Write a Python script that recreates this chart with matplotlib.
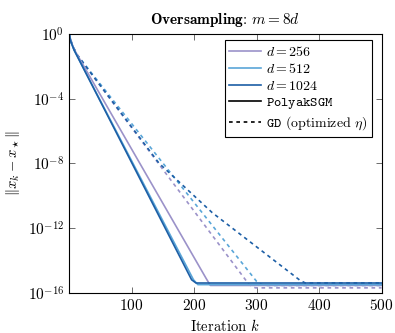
import matplotlib
matplotlib.use("Agg")
import matplotlib.pyplot as plt
import numpy as np

plt.rcParams["font.family"] = "serif"
plt.rcParams["font.serif"] = ["cmr10", "DejaVu Serif"]
plt.rcParams["mathtext.fontset"] = "cm"
plt.rcParams["axes.formatter.use_mathtext"] = True
plt.rcParams["axes.unicode_minus"] = False

# values: (iteration, log10 ||x_k - x*||)
dims = ["256", "512", "1024"]
colors = ["#9b92c9", "#5aa6d8", "#1d5fa6"]

polyak_iters = [
    [0, 3, 8, 219, 226, 500],
    [0, 3, 8, 199, 206, 500],
    [0, 3, 8, 196, 203, 500],
]
polyak_logerr = [
    [0, -0.45, -0.95, -15.1, -15.55, -15.55],
    [0, -0.5, -1.0, -15.2, -15.5, -15.5],
    [0, -0.5, -1.0, -15.2, -15.4, -15.4],
]

gd_iters = [
    [0, 5, 13, 288, 298, 500],
    [0, 5, 13, 300, 311, 500],
    [0, 5, 13, 144, 229, 370, 378, 500],
]
gd_logerr = [
    [0, -0.7, -1.3, -15.5, -15.7, -15.7],
    [0, -0.7, -1.3, -15.3, -15.55, -15.55],
    [0, -0.7, -1.3, -8.0, -11.05, -15.25, -15.4, -15.4],
]

fig = plt.figure(figsize=(3.95, 3.33), dpi=100)
ax = fig.add_axes([0.175, 0.121, 0.791, 0.777])

for i in range(3):
    ax.plot(gd_iters[i], 10.0 ** np.array(gd_logerr[i]), color=colors[i],
            lw=1.2, ls=(0, (2.2, 2.2)))
for i in range(3):
    ax.plot(polyak_iters[i], 10.0 ** np.array(polyak_logerr[i]), color=colors[i],
            lw=1.2)

ax.set_yscale("log")
ax.set_xlim(0, 500)
ax.set_ylim(1e-16, 1e0)
ax.set_xticks([100, 200, 300, 400, 500])
ax.set_yticks([1e0, 1e-4, 1e-8, 1e-12, 1e-16])
ax.yaxis.set_minor_locator(matplotlib.ticker.NullLocator())
ax.tick_params(direction="in", top=True, right=True, length=4, width=0.6,
               labelsize=11, color="#555555")
for s in ax.spines.values():
    s.set_linewidth(0.8)

ax.set_xlabel(r"Iteration $k$", fontsize=10.5)
ax.set_ylabel(r"$\|x_k - x_\star\|$", fontsize=10.5)
ax.set_title(r"$\mathbf{Oversampling}$: $m = 8d$", fontsize=11, pad=7)

handles = []
for i in range(3):
    h, = ax.plot([], [], color=colors[i], lw=1.2, label=r"$d = %s$" % dims[i])
    handles.append(h)
h, = ax.plot([], [], color="black", lw=1.2, label=r"$\mathtt{PolyakSGM}$")
handles.append(h)
h, = ax.plot([], [], color="black", lw=1.2, ls=(0, (2.2, 2.2)),
             label=r"$\mathtt{GD}$ (optimized $\eta$)")
handles.append(h)
leg = ax.legend(handles=handles, loc="upper right", fontsize=10,
                bbox_to_anchor=(0.978, 0.988), fancybox=False, framealpha=1,
                edgecolor="black", handlelength=2.3, handletextpad=0.3,
                borderpad=0.35, labelspacing=0.25, borderaxespad=0.2)
leg.get_frame().set_linewidth(0.8)

fig.savefig("out.png", dpi=100)
